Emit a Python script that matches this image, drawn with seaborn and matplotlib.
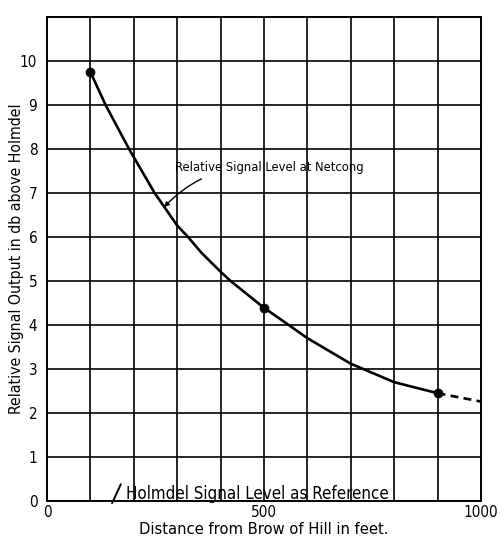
import matplotlib
matplotlib.use("Agg")
import matplotlib.pyplot as plt
import seaborn as sns
import pandas as pd

# Measured signal level along the slope (feet from brow of hill, db above Holmdel)
curve_x = [100, 135, 189, 248, 300, 325, 356, 400, 423, 500, 557, 600, 700, 800, 900]
curve_y = [9.75, 9.0, 8.0, 7.0, 6.26, 6.0, 5.64, 5.21, 5.0, 4.39, 4.0, 3.70, 3.12, 2.70, 2.45]
# Extrapolated tail beyond the last measurement
tail_x = [900, 1000]
tail_y = [2.45, 2.26]
# Measurement points
point_x = [100, 500, 900]
point_y = [9.75, 4.39, 2.45]

x_ticks = [0, 500, 1000]
y_ticks = list(range(0, 11))

sns.set_style("white")
plt.rcParams["font.family"] = ["DejaVu Sans"]

fig = plt.figure(figsize=(5, 5.39), dpi=100)
ax = fig.add_axes([0.094, 0.0705, 0.868, 0.898])

curve = pd.DataFrame({"x": curve_x, "y": curve_y})
tail = pd.DataFrame({"x": tail_x, "y": tail_y})
pts = pd.DataFrame({"x": point_x, "y": point_y})

sns.lineplot(data=curve, x="x", y="y", ax=ax, color="black", linewidth=1.9,
             sort=False, zorder=4)
sns.lineplot(data=tail, x="x", y="y", ax=ax, color="black", linewidth=1.9,
             linestyle=(0, (3, 2)), zorder=4)
sns.scatterplot(data=pts, x="x", y="y", ax=ax, color="black", s=42,
                edgecolor="black", zorder=5)

ax.set_xlim(0, 1000)
ax.set_ylim(0, 11)

# Square grid: every 100 ft and every 1 db
for gx in range(100, 1000, 100):
    ax.axvline(gx, color="black", linewidth=1.2, zorder=1)
for gy in range(1, 11):
    ax.axhline(gy, color="black", linewidth=1.2, zorder=1)
for s in ax.spines.values():
    s.set_color("black")
    s.set_linewidth(1.4)

ax.set_xticks(x_ticks)
ax.set_xticklabels([str(v) for v in x_ticks], fontsize=11, fontstretch="condensed")
ax.set_yticks(y_ticks)
ax.set_yticklabels([str(v) for v in y_ticks], fontsize=11, fontstretch="condensed")
ax.tick_params(axis="x", length=0, pad=3, colors="black")
ax.tick_params(axis="y", length=0, pad=7, colors="black")

ax.set_xlabel("Distance from Brow of Hill in feet.", fontsize=11.8,
              fontstretch="condensed", labelpad=1, color="black")
ax.set_ylabel("Relative Signal Output in db above Holmdel", fontsize=11.3,
              fontstretch="condensed", color="black")
ax.yaxis.set_label_coords(-0.052, 0.5)

ax.annotate("Relative Signal Level at Netcong", xy=(270, 6.68), xytext=(296, 7.57),
            fontsize=9.3, fontstretch="condensed", color="black", va="center",
            arrowprops=dict(arrowstyle="-|>", color="black", lw=1.0,
                            mutation_scale=7,
                            connectionstyle="arc3,rad=0.25",
                            shrinkA=2, shrinkB=0),
            zorder=6)

# Reference level label with its short pointer onto the zero line
ax.text(182, 0.15, "Holmdel Signal Level as Reference", fontsize=12.2,
        fontstretch="condensed", color="black", va="center", zorder=6)
ax.annotate("", xy=(150, -0.05), xytext=(170, 0.38), annotation_clip=False,
            arrowprops=dict(arrowstyle="-", color="black", lw=1.4,
                            shrinkA=0, shrinkB=0, clip_on=False),
            zorder=6)

fig.savefig("out.png", dpi=100, facecolor="white")
